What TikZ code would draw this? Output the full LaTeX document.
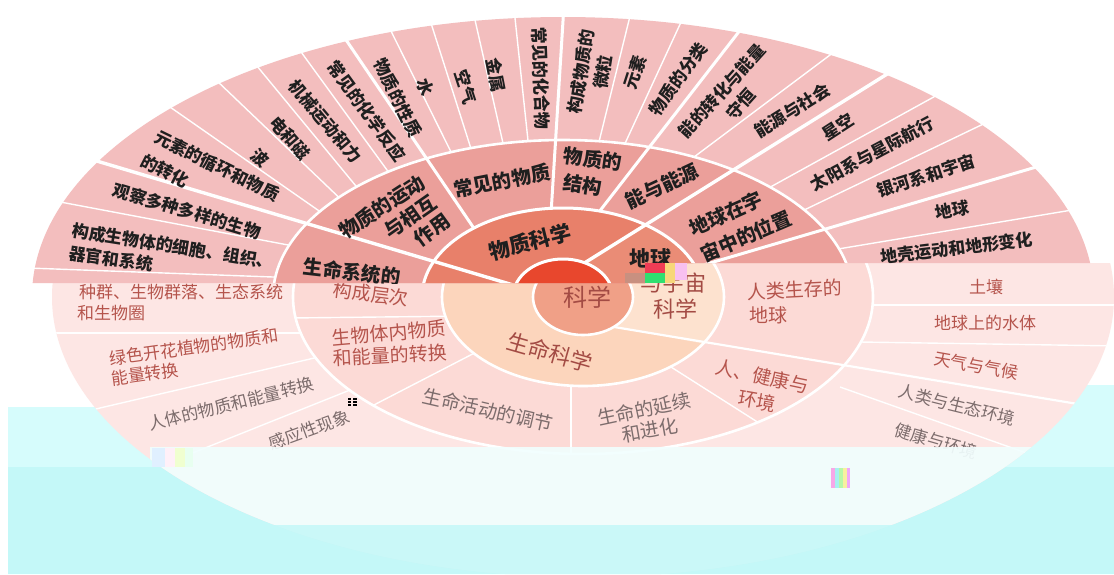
\documentclass[tikz,border=0pt]{standalone}
\usepackage{fontspec}
\newfontfamily\cjk{Noto Sans CJK SC}
\definecolor{rfour}{HTML}{F3BEBE}
\definecolor{rthree}{HTML}{EB9F9A}
\definecolor{rtwo}{HTML}{E8806A}
\definecolor{rtwoe}{HTML}{EA8C76}
\definecolor{rone}{HTML}{E8472D}
\definecolor{lfour}{HTML}{FDE6E4}
\definecolor{lthree}{HTML}{FCDAD6}
\definecolor{ltwo}{HTML}{FCD5BC}
\definecolor{ltwoe}{HTML}{FDE2CF}
\definecolor{lone}{HTML}{F0A087}
\definecolor{cyanbg}{HTML}{D6FCFC}
\definecolor{cyandeep}{HTML}{C4F8F8}
\definecolor{txtred}{HTML}{B5544C}
\definecolor{txtgray}{HTML}{7C6C6C}
\definecolor{ga}{HTML}{C89080}
\definecolor{gb}{HTML}{F03C55}
\definecolor{gc}{HTML}{30E070}
\definecolor{gd}{HTML}{F7D77A}
\definecolor{ge}{HTML}{F8C0F0}
\definecolor{gf}{HTML}{E0F0FF}
\definecolor{gg}{HTML}{FFF0F8}
\definecolor{gh}{HTML}{F0FFD0}
\definecolor{gi}{HTML}{E8FFF0}
\definecolor{gj}{HTML}{F8A8E8}
\definecolor{gk}{HTML}{A8F0F0}
\definecolor{gl}{HTML}{B8F8A8}
\definecolor{gm}{HTML}{F8F0A0}
\definecolor{gn}{HTML}{F0A8F8}
\begin{document}
\begin{tikzpicture}[x=1pt,y=-1pt,
  lab4/.style={font=\cjk\bfseries\fontsize{17}{19}\selectfont, text=black!88, inner sep=0pt},
  lab3/.style={font=\cjk\bfseries\fontsize{19.5}{21}\selectfont, text=black!88, inner sep=0pt},
  lab2/.style={font=\cjk\bfseries\fontsize{21}{23}\selectfont, text=black!88, inner sep=0pt},
  low4/.style={font=\cjk\fontsize{17}{19}\selectfont, text=txtred, inner sep=0pt},
  low3/.style={font=\cjk\fontsize{19}{21}\selectfont, text=txtred, inner sep=0pt},
  low2/.style={font=\cjk\fontsize{22}{24}\selectfont, text=txtred!90!black, inner sep=0pt},
  thinw/.style={white, line width=1.4pt},
  thickw/.style={white, line width=3pt},
  ringw/.style={white, line width=2.6pt},
]
\useasboundingbox (0,0) rectangle (1114,574);
\fill[white] (0,0) rectangle (1114,574);
% ---------- corrupted lower background ----------
\fill[cyanbg] (8,407) -- (560,407) -- (560,385) -- (1114,385) -- (1114,574) -- (8,574) -- cycle;
\fill[cyandeep] (8,467) rectangle (1114,574);
% ---------- lower (faded) layer ----------
\begin{scope}
\clip (0,283) -- (645,283) -- (645,263) -- (1114,263) -- (1114,574) -- (0,574) -- cycle;
\coordinate (cl) at (583,297);
\fill[lfour] (cl) ellipse [x radius=531pt, y radius=280pt];
\begin{scope}
\clip (cl) ellipse [x radius=531pt, y radius=280pt];
\draw[thinw] (40,333) -- (330,333);
\draw[thinw] (70,415) -- (340,352);
\draw[thinw] (140,474) -- (350,390);
\draw[thinw] (860,305) -- (1120,305);
\draw[thinw] (860,342) -- (1120,346);
\draw[thinw] (840,387) -- (1080,472);
\end{scope}
\fill[lthree] (cl) ellipse [x radius=290pt, y radius=157pt];
\begin{scope}
\clip (cl) ellipse [x radius=290pt, y radius=157pt];
\draw[thinw] (290,318) -- (470,316);
\draw[thinw] (310,438) -- (490,345);
\draw[thinw] (571,380) -- (571,470);
\draw[thinw] (660,360) -- (880,500);
\end{scope}
\fill[ltwo] (cl) ellipse [x radius=141pt, y radius=89pt];
\begin{scope}
\clip (cl) ellipse [x radius=141pt, y radius=89pt];
\fill[ltwoe] (575,281) -- (760,165) -- (760,354) -- (575,320) -- cycle;
\end{scope}
\begin{scope}
\clip (cl) ellipse [x radius=531pt, y radius=280pt];
\draw[white, line width=2.2pt] (590,323) -- (1120,411);
\end{scope}
\fill[lone] (cl) ellipse [x radius=50pt, y radius=38pt];
\draw[ringw] (cl) ellipse [x radius=290pt, y radius=157pt];
\draw[ringw] (cl) ellipse [x radius=141pt, y radius=89pt];
\draw[ringw] (cl) ellipse [x radius=50pt, y radius=38pt];
% lower texts
\node[low4] (d1) at (181,292) {种群、生物群落、生态系统};
\node[low4] (d2) at (111,313) {和生物圈};
\node[low4, rotate=8] (d3) at (194,347) {绿色开花植物的物质和};
\node[low4, rotate=8] (d4) at (145,374) {能量转换};
\node[low4, text=txtgray, rotate=14] (d5) at (231,404) {人体的物质和能量转换};
\node[low4, text=txtgray, rotate=20] (d6) at (309,430) {感应性现象};
\node[low3, rotate=-7] (d7) at (371,294) {构成层次};
\node[low3, rotate=5] (d8) at (389,333) {生物体内物质};
\node[low3, rotate=3] (d9) at (390,355) {和能量的转换};
\node[low3, text=txtgray, rotate=-13] (d10) at (488,410) {生命活动的调节};
\node[low3, text=txtgray, rotate=12] (d11) at (644,409) {生命的延续};
\node[low3, text=txtgray, rotate=10] (d12) at (650,430) {和进化};
\node[low3, rotate=-12] (d13) at (762,376) {人、健康与};
\node[low3, rotate=-10] (d14) at (757,401) {环境};
\node[low3, rotate=3] (d15) at (795,290) {人类生存的};
\node[low3] (d16) at (768,315) {地球};
\node[low4] (d17) at (986,287) {土壤};
\node[low4] (d18) at (985,323) {地球上的水体};
\node[low4, rotate=-10] (d19) at (976,366) {天气与气候};
\node[low4, text=txtgray, rotate=-14] (d20) at (957,405) {人类与生态环境};
\node[low4, text=txtgray, rotate=-16] (d21) at (936,441) {健康与环境};
\node[low2] (d22) at (673,283) {与宇宙};
\node[low2] (d23) at (675,309) {科学};
\node[low2, rotate=-16] (d24) at (550,352) {生命科学};
\node[low2, font=\cjk\fontsize{24}{26}\selectfont] (d25) at (587,297) {科学};
% fading overlays
\begin{scope}
\clip (cl) ellipse [x radius=531pt, y radius=280pt];
\fill[white!65!cyanbg, opacity=0.92] (150,447) rectangle (1114,574);
\end{scope}
\fill[cyandeep, opacity=0.85] (8,525) rectangle (1114,574);
\end{scope}
% ---------- upper layer ----------
\begin{scope}
\clip (0,0) -- (1114,0) -- (1114,263) -- (645,263) -- (645,283) -- (0,283) -- cycle;
\coordinate (cu) at (563,297);
\fill[rfour] (cu) ellipse [x radius=531pt, y radius=280pt];
% ring-4 division lines
\draw[thinw] (28,268) -- (300,278);
\draw[thinw] (55,201) -- (320,251);
\draw[thinw] (170,107) -- (335,222);
\draw[thinw] (215,79) -- (350,208);
\draw[thinw] (252,60) -- (365,197);
\draw[thinw] (296,45) -- (395,181);
\draw[thinw] (388,25) -- (455,160);
\draw[thinw] (430,20) -- (473,155);
\draw[thinw] (475,20) -- (505,152);
\draw[thinw] (515,18) -- (529,150);
\draw[thinw] (632,8) -- (597,150);
\draw[thinw] (682,20) -- (622,150);
\draw[thinw] (842,46) -- (690,160);
\draw[thinw] (950,88) -- (765,190);
\draw[thinw] (1000,116) -- (800,212);
\draw[thinw] (1090,207) -- (838,249);
\fill[rthree] (cu) ellipse [x radius=290pt, y radius=157pt];
% lines reaching ring 3
\draw[thickw] (340,31) -- (490,252);
\draw[thickw] (564,5) -- (550,230);
\draw[thickw] (748,20) -- (592,221);
\draw[thickw] (1060,160) -- (700,266);
\fill[rtwo] (cu) ellipse [x radius=141pt, y radius=89pt];
\begin{scope}
\clip (cu) ellipse [x radius=141pt, y radius=89pt];
\fill[rtwoe] (570,272) -- (760,153) -- (760,300) -- (570,300) -- cycle;
\end{scope}
% lines reaching ring 2
\draw[white, line width=3.4pt] (90,159) -- (530,290);
\draw[white, line width=3.4pt] (900,66) -- (570,272);
\fill[rone] (cu) ellipse [x radius=50pt, y radius=38pt];
\draw[ringw] (cu) ellipse [x radius=290pt, y radius=157pt];
\draw[white, line width=3pt] (cu) ellipse [x radius=141pt, y radius=89pt];
\draw[white, line width=3pt] (cu) ellipse [x radius=50pt, y radius=38pt];
% ring-4 labels
\node[lab4, rotate=-9] (a1) at (173,246) {构成生物体的细胞、组织、};
\node[lab4, rotate=-8] (a2) at (111,259) {器官和系统};
\node[lab4, rotate=-16.6] (a3) at (187,211) {观察多种多样的生物};
\node[lab4, rotate=-26] (a4) at (217,166) {元素的循环和物质};
\node[lab4, rotate=-27] (a5) at (165,171) {的转化};
\node[lab4, rotate=-40] (a6) at (260,158) {波};
\node[lab4, rotate=-49] (a7) at (290,138) {电和磁};
\node[lab4, rotate=-50] (a8) at (325,121) {机械运动和力};
\node[lab4, rotate=-54] (a9) at (367,111) {常见的化学反应};
\node[lab4, rotate=-64] (a10) at (398,98) {物质的性质};
\node[lab4, rotate=-70] (a11) at (425,87) {水};
\node[lab4, rotate=-72] (a12) at (466,87) {空气};
\node[lab4, rotate=-79] (a13) at (496,75) {金属};
\node[lab4, rotate=-88] (a14) at (541,78) {常见的化合物};
\node[lab4, rotate=81] (a15) at (581,72) {构成物质的};
\node[lab4, rotate=81] (a16) at (603,72) {微粒};
\node[lab4, rotate=72] (a17) at (635,72) {元素};
\node[lab4, rotate=54] (a18) at (678,79) {物质的分类};
\node[lab4, rotate=48] (a19) at (722,91) {能的转化与能量};
\node[lab4, rotate=48] (a20) at (741,104) {守恒};
\node[lab4, rotate=32] (a21) at (792,110) {能源与社会};
\node[lab4, rotate=33] (a22) at (838,127) {星空};
\node[lab4, rotate=28] (a23) at (872,154) {太阳系与星际航行};
\node[lab4, rotate=18] (a24) at (926,176) {银河系和宇宙};
\node[lab4, rotate=10] (a25) at (952,210) {地球};
\node[lab4, rotate=7] (a26) at (957,248) {地壳运动和地形变化};
% ring-3 labels
\node[lab3, rotate=-6.5] (b1) at (352,272) {生命系统的};
\node[lab3, rotate=33] (b2) at (382,207) {物质的运动};
\node[lab3, rotate=35] (b3) at (410,217) {与相互};
\node[lab3, rotate=36] (b4) at (432,230) {作用};
\node[lab3, rotate=11] (b5) at (502,181) {常见的物质};
\node[lab3, rotate=-8] (b6) at (593,159) {物质的};
\node[lab3, rotate=-8] (b7) at (583,185) {结构};
\node[lab3, rotate=25] (b8) at (662,186) {能与能源};
\node[lab3, rotate=24] (b9) at (726,214) {地球在宇};
\node[lab3, rotate=23] (b10) at (746,236) {宙中的位置};
% ring-2 labels
\node[lab2, rotate=14] (c1) at (530,242) {物质科学};
\node[lab2] (c2) at (650,259) {地球};
\end{scope}
% ---------- glitch blocks ----------
\fill[ga] (625,273) rectangle (645,283);
\fill[gb] (645,263) rectangle (665,273);
\fill[gc] (645,273) rectangle (665,283);
\fill[gd] (665,263) rectangle (675,283);
\fill[ge] (675,263) rectangle (687,280);
\fill[gf] (152,448) rectangle (165,467);
\fill[gg] (165,448) rectangle (175,467);
\fill[gh] (175,448) rectangle (185,467);
\fill[gi] (185,448) rectangle (193,467);
\fill[gj] (831,468) rectangle (835,488);
\fill[gk] (835,468) rectangle (839,488);
\fill[gl] (839,468) rectangle (843,488);
\fill[gm] (843,468) rectangle (847,488);
\fill[gn] (847,468) rectangle (850,488);
\foreach \yy in {399,402,405} {
  \draw[black, line width=1.1pt] (348,\yy) -- (351,\yy);
  \draw[black, line width=1.1pt] (353,\yy) -- (357,\yy);
}
\end{tikzpicture}
\end{document}
